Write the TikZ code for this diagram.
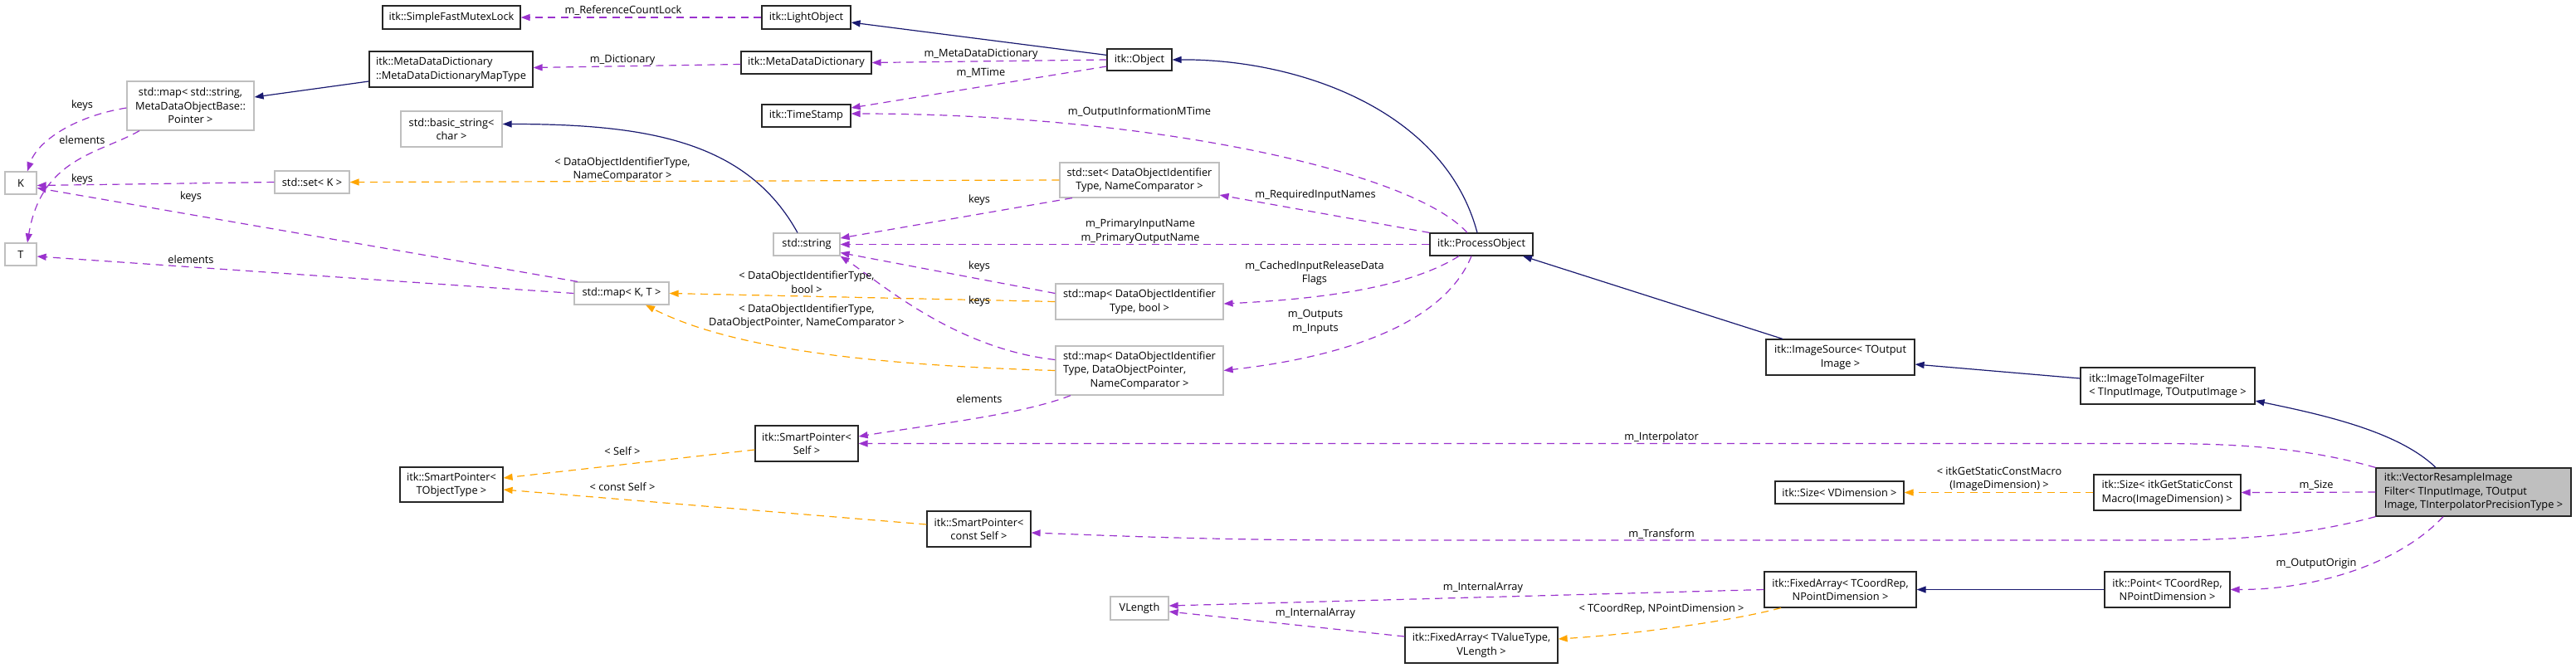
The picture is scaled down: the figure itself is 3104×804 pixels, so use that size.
\documentclass[tikz,border=0pt]{standalone}
\usepackage{fontspec}
\setmainfont{Open Sans}
\usetikzlibrary{arrows.meta}
\definecolor{inhblue}{HTML}{191970}
\definecolor{usepurple}{HTML}{9A32CD}
\definecolor{tplorange}{HTML}{FFA500}
\definecolor{extgray}{HTML}{BFBFBF}

\begin{document}
\begin{tikzpicture}[x=1pt,y=-1pt,font=\fontsize{12.8}{16.5}\selectfont,
  cls/.style={draw=black!85,line width=1.2pt,fill=white,inner sep=0pt,align=center},
  extcls/.style={cls,draw=extgray},
  inherit/.style={draw=inhblue,line width=1.2pt,-{Triangle[length=11pt,width=8pt]}},
  member/.style={draw=usepurple,line width=1.2pt,dash pattern=on 9pt off 6.5pt,-{Triangle[length=11pt,width=8pt]}},
  templ/.style={member,draw=tplorange},
  lbl/.style={inner sep=0pt,align=center}]
\useasboundingbox (0,0) rectangle (3104,804);
% classes
\node[cls,minimum width=166pt,minimum height=28pt] (mutex) at (544,21) {itk::SimpleFastMutexLock};
\node[cls,minimum width=107pt,minimum height=28pt] (light) at (971.5,21) {itk::LightObject};
\node[cls,minimum width=197pt,minimum height=43pt,align=left] (mapType) at (543.5,83.5) {itk::MetaDataDictionary\\::MetaDataDictionaryMapType};
\node[extcls,minimum width=153pt,minimum height=59pt] (strMap) at (229.5,127.5) {std::map< std::string,\\MetaDataObjectBase::\\Pointer >};
\node[extcls,minimum width=122pt,minimum height=43pt] (bstr) at (544,155.5) {std::basic\_string<\\char >};
\node[extcls,minimum width=38pt,minimum height=27pt] (K) at (25,220.5) {K};
\node[extcls,minimum width=38pt,minimum height=27pt] (T) at (25,306.5) {T};
\node[extcls,minimum width=90pt,minimum height=27pt] (setK) at (376,219.5) {std::set< K >};
\node[extcls,minimum width=114pt,minimum height=27pt] (mapKT) at (749,353.5) {std::map< K, T >};
\node[cls,minimum width=124pt,minimum height=42pt] (spT) at (544,584) {itk::SmartPointer<\\TObjectType >};
\node[cls,minimum width=157pt,minimum height=27pt] (mdd) at (971.5,75.5) {itk::MetaDataDictionary};
\node[cls,minimum width=78pt,minimum height=26pt] (object) at (1373,72) {itk::Object};
\node[cls,minimum width=107pt,minimum height=27pt] (stamp) at (971.5,139.5) {itk::TimeStamp};
\node[extcls,minimum width=192pt,minimum height=42pt] (setId) at (1373,217) {std::set< DataObjectIdentifier\\Type, NameComparator >};
\node[extcls,minimum width=80pt,minimum height=27pt] (string) at (972,294.5) {std::string};
\node[extcls,minimum width=202pt,minimum height=43pt] (mapBool) at (1373,363.5) {std::map< DataObjectIdentifier\\Type, bool >};
\node[extcls,minimum width=202pt,minimum height=59pt] (mapPtr) at (1373,446.5) {\begin{tabular}{@{}l@{}}std::map< DataObjectIdentifier\\Type, DataObjectPointer,\\\multicolumn{1}{@{}c@{}}{NameComparator >}\end{tabular}};
\node[cls,minimum width=124pt,minimum height=43pt] (spSelf) at (972,534.5) {itk::SmartPointer<\\Self >};
\node[cls,minimum width=125pt,minimum height=43pt] (spConst) at (1179.5,637.5) {itk::SmartPointer<\\const Self >};
\node[extcls,minimum width=70pt,minimum height=28pt] (vlen) at (1373,733) {VLength};
\node[cls,minimum width=124pt,minimum height=27pt] (procObj) at (1785,294.5) {itk::ProcessObject};
\node[cls,minimum width=179pt,minimum height=43pt] (imgSrc) at (2217.5,430.5) {itk::ImageSource< TOutput\\Image >};
\node[cls,minimum width=155pt,minimum height=27pt] (sizeV) at (2216.5,593.5) {itk::Size< VDimension >};
\node[cls,minimum width=183pt,minimum height=43pt] (fixC) at (2217.5,710.5) {itk::FixedArray< TCoordRep,\\NPointDimension >};
\node[cls,minimum width=184pt,minimum height=43pt] (fixV) at (1785,777.5) {itk::FixedArray< TValueType,\\VLength >};
\node[cls,minimum width=210pt,minimum height=44pt,align=left] (i2i) at (2612,465) {itk::ImageToImageFilter\\< TInputImage, TOutputImage >};
\node[cls,fill=extgray,minimum width=235pt,minimum height=58pt,align=left] (vrif) at (2980.5,593) {itk::VectorResampleImage\\Filter< TInputImage, TOutput\\Image, TInterpolatorPrecisionType >};
\node[cls,minimum width=177pt,minimum height=43pt,align=left] (sizeM) at (2611.5,593.5) {itk::Size< itkGetStaticConst\\Macro(ImageDimension) >};
\node[cls,minimum width=151pt,minimum height=43pt] (point) at (2611.5,710.5) {itk::Point< TCoordRep,\\NPointDimension >};
% inheritance
\draw[inherit] ([yshift=-8pt]object.north west) -- ([yshift=-6pt]light.east);
\draw[inherit] ([xshift=-5pt]procObj.north) .. controls (1740,130) and (1560,71) .. (object.east);
\draw[inherit] ([xshift=-69.5pt]imgSrc.north) -- ([xshift=50pt]procObj.south);
\draw[inherit] ([yshift=9pt]i2i.west) -- ([yshift=-8.5pt]imgSrc.east);
\draw[inherit] ([xshift=-45.5pt]vrif.north) .. controls (2890,520) and (2800,500) .. ([yshift=-18pt]i2i.east);
\draw[inherit] (point.west) -- (fixC.east);
\draw[inherit] ([xshift=-11pt]string.north) .. controls (900,170) and (780,149.5) .. ([yshift=6pt]bstr.east);
\draw[inherit] ([yshift=-14.5pt]mapType.west) -- ([yshift=10.5pt]strMap.east);
% members
\draw[member] (light.west) -- (mutex.east);
\draw[member] ([yshift=-2pt]mdd.west) -- ([yshift=2pt]mapType.east);
\draw[member] (object.west) -- (mdd.east);
\draw[member] ([yshift=-8pt]object.west) -- ([yshift=9.5pt]stamp.east);
\draw[member] ([xshift=-17pt]procObj.north) .. controls (1700,205) and (1380,137) .. ([yshift=2.5pt]stamp.east);
\draw[member] (procObj.north west) -- ([yshift=-18pt]setId.east);
\draw[member] (procObj.west) -- (string.east);
\draw[member] ([xshift=-27pt]procObj.south) .. controls (1700,345) and (1600,360) .. ([yshift=-2.5pt]mapBool.east);
\draw[member] ([xshift=-12pt]procObj.south) .. controls (1740,390) and (1620,430) .. (mapPtr.east);
\draw[member] ([xshift=-81pt]setId.south) -- ([yshift=7.5pt]string.east);
\draw[member] ([yshift=10pt]mapBool.west) -- ([yshift=-10pt]string.east);
\draw[member] ([yshift=13pt]mapPtr.west) .. controls (1150,420) and (1060,340) .. (string.south east);
\draw[member] ([xshift=-83pt]mapPtr.south) .. controls (1230,500) and (1120,512) .. ([yshift=8.5pt]spSelf.east);
\draw[member] (vrif.north west) .. controls (2780,540) and (2700,534.5) .. (2600,534.5) -- (spSelf.east);
\draw[member] (vrif.west) -- (sizeM.east);
\draw[member] (vrif.south west) .. controls (2780,645) and (2700,651) .. (2600,651) -- (1650,651) .. controls (1450,651) and (1330,645) .. ([yshift=-4.5pt]spConst.east);
\draw[member] ([xshift=-36.5pt]vrif.south) .. controls (2890,680) and (2790,710.5) .. (point.east);
\draw[member] (fixC.west) -- ([yshift=3pt]vlen.east);
\draw[member] ([yshift=10.5pt]fixV.west) -- ([yshift=-4pt]vlen.east);
\draw[member] ([yshift=-2.5pt]strMap.west) .. controls (90,140) and (45,170) .. ([xshift=8pt]K.north);
\draw[member] ([xshift=-61.5pt]strMap.south) .. controls (120,185) and (50,190) .. ([xshift=8pt]T.north);
\draw[member] (setK.west) -- ([yshift=-3pt]K.east);
\draw[member] ([xshift=-53pt]mapKT.north) -- ([yshift=-6pt]K.east);
\draw[member] (mapKT.west) -- ([yshift=-2.5pt]T.east);
% templates
\draw[templ] (setId.west) -- (setK.east);
\draw[templ] (mapBool.west) -- (mapKT.east);
\draw[templ] (mapPtr.west) .. controls (1050,440) and (880,420) .. ([xshift=29pt]mapKT.south);
\draw[templ] ([yshift=-7.5pt]spSelf.west) -- ([yshift=8pt]spT.east);
\draw[templ] ([yshift=5.5pt]spConst.west) -- ([yshift=-6pt]spT.east);
\draw[templ] (sizeM.west) -- (sizeV.east);
\draw[templ] ([xshift=-71.5pt]fixC.south) .. controls (2080,750) and (1960,765) .. ([yshift=7.5pt]fixV.east);
% labels
\node[lbl] (lRefLock) at (751,13) {m\_ReferenceCountLock};
\node[lbl] (lDict) at (750,72) {m\_Dictionary};
\node[lbl] (lMdd) at (1182,65) {m\_MetaDataDictionary};
\node[lbl] (lMTime) at (1182,88) {m\_MTime};
\node[lbl] (lOutInfo) at (1373,135) {m\_OutputInformationMTime};
\node[lbl] (lSetTpl) at (750,204) {< DataObjectIdentifierType,\\NameComparator >};
\node[lbl] (lKeysA) at (99,127) {keys};
\node[lbl] (lElemA) at (99,169) {elements};
\node[lbl] (lKeysB) at (99,216) {keys};
\node[lbl] (lKeysC) at (230,237) {keys};
\node[lbl] (lElemB) at (230,313) {elements};
\node[lbl] (lKeysD) at (1180,241) {keys};
\node[lbl] (lReqIn) at (1585,235) {m\_RequiredInputNames};
\node[lbl] (lPrimary) at (1374,279) {m\_PrimaryInputName\\m\_PrimaryOutputName};
\node[lbl] (lKeysE) at (1180,321) {keys};
\node[lbl] (lCached) at (1584,329) {m\_CachedInputReleaseData\\Flags};
\node[lbl] (lBoolTpl) at (972,340) {< DataObjectIdentifierType,\\bool >};
\node[lbl] (lKeysF) at (1180,363) {keys};
\node[lbl] (lPtrTpl) at (972,381) {< DataObjectIdentifierType,\\DataObjectPointer, NameComparator >};
\node[lbl] (lInOut) at (1585,388) {m\_Outputs\\m\_Inputs};
\node[lbl] (lElemC) at (1180,481) {elements};
\node[lbl] (lSelf) at (750,544) {< Self >};
\node[lbl] (lConstSelf) at (750,587) {< const Self >};
\node[lbl] (lInterp) at (2002,527) {m\_Interpolator};
\node[lbl] (lTransform) at (2002,644) {m\_Transform};
\node[lbl] (lIntArrA) at (1787,708) {m\_InternalArray};
\node[lbl] (lIntArrB) at (1585,739) {m\_InternalArray};
\node[lbl] (lCoordTpl) at (2002,734) {< TCoordRep, NPointDimension >};
\node[lbl] (lSizeTpl) at (2409,577) {< itkGetStaticConstMacro\\(ImageDimension) >};
\node[lbl] (lSize) at (2791,585) {m\_Size};
\node[lbl] (lOrigin) at (2791,679) {m\_OutputOrigin};
\end{tikzpicture}
\end{document}
